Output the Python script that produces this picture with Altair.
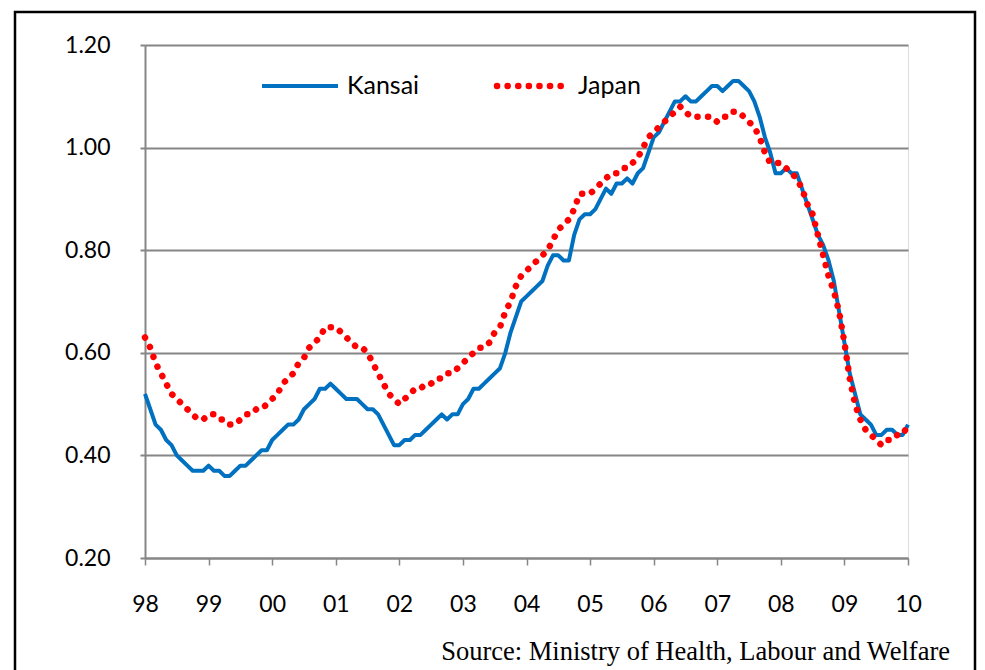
import altair as alt
import pandas as pd

# ---- data (monthly, Jan 1998 .. Jan 2010) ----
tick_labels = ["98", "99", "00", "01", "02", "03", "04", "05", "06", "07", "08", "09", "10"]
y_ticks = [0.20, 0.40, 0.60, 0.80, 1.00, 1.20]

kansai = [
    0.52, 0.49, 0.46, 0.45, 0.43, 0.42, 0.40, 0.39, 0.38, 0.37, 0.37, 0.37,
    0.38, 0.37, 0.37, 0.36, 0.36, 0.37, 0.38, 0.38, 0.39, 0.40, 0.41, 0.41,
    0.43, 0.44, 0.45, 0.46, 0.46, 0.47, 0.49, 0.50, 0.51, 0.53, 0.53, 0.54,
    0.53, 0.52, 0.51, 0.51, 0.51, 0.50, 0.49, 0.49, 0.48, 0.46, 0.44, 0.42,
    0.42, 0.43, 0.43, 0.44, 0.44, 0.45, 0.46, 0.47, 0.48, 0.47, 0.48, 0.48,
    0.50, 0.51, 0.53, 0.53, 0.54, 0.55, 0.56, 0.57, 0.60, 0.64, 0.67, 0.70,
    0.71, 0.72, 0.73, 0.74, 0.77, 0.79, 0.79, 0.78, 0.78, 0.83, 0.86, 0.87,
    0.87, 0.88, 0.90, 0.92, 0.91, 0.93, 0.93, 0.94, 0.93, 0.95, 0.96, 0.99,
    1.02, 1.03, 1.05, 1.07, 1.09, 1.09, 1.10, 1.09, 1.09, 1.10, 1.11, 1.12,
    1.12, 1.11, 1.12, 1.13, 1.13, 1.12, 1.11, 1.09, 1.06, 1.02, 0.99, 0.95,
    0.95, 0.96, 0.95, 0.95, 0.92, 0.89, 0.86, 0.83, 0.81, 0.78, 0.74, 0.68,
    0.62, 0.56, 0.52, 0.48, 0.47, 0.46, 0.44, 0.44, 0.45, 0.45, 0.44, 0.44,
    0.46,
]

japan = [
    0.63, 0.61, 0.58, 0.56, 0.54, 0.52, 0.51, 0.50, 0.49, 0.48, 0.47, 0.47,
    0.48, 0.48, 0.47, 0.47, 0.46, 0.46, 0.47, 0.48, 0.48, 0.49, 0.49, 0.50,
    0.51, 0.52, 0.54, 0.55, 0.56, 0.58, 0.59, 0.61, 0.62, 0.63, 0.65, 0.65,
    0.65, 0.64, 0.63, 0.62, 0.61, 0.61, 0.60, 0.58, 0.56, 0.54, 0.52, 0.51,
    0.50, 0.51, 0.52, 0.53, 0.53, 0.54, 0.54, 0.55, 0.55, 0.56, 0.56, 0.57,
    0.58, 0.59, 0.60, 0.61, 0.61, 0.62, 0.64, 0.65, 0.68, 0.70, 0.73, 0.75,
    0.76, 0.77, 0.78, 0.79, 0.80, 0.82, 0.84, 0.85, 0.86, 0.88, 0.91, 0.91,
    0.91, 0.92, 0.93, 0.94, 0.95, 0.95, 0.96, 0.96, 0.97, 0.98, 1.00, 1.02,
    1.03, 1.04, 1.05, 1.06, 1.07, 1.08, 1.07, 1.06, 1.06, 1.06, 1.06, 1.06,
    1.05, 1.06, 1.06, 1.07, 1.07, 1.06, 1.05, 1.04, 1.02, 0.99, 0.97, 0.97,
    0.97, 0.96, 0.95, 0.94, 0.92, 0.89, 0.87, 0.83, 0.79, 0.75, 0.72, 0.68,
    0.62, 0.55, 0.50, 0.47, 0.45, 0.44, 0.43, 0.42, 0.43, 0.43, 0.44, 0.44,
    0.46,
]

series_names = ["Kansai", "Japan"]
source_text = "Source: Ministry of Health, Labour and Welfare"

n = len(kansai)
months = list(range(n))
df_k = pd.DataFrame({"month": months, "ratio": kansai, "series": series_names[0]})
df_j = pd.DataFrame({"month": months, "ratio": japan, "series": series_names[1]})
one_row = pd.DataFrame({"k": [0]})

W, H = 763, 513
GRID = "#868686"
BLUE = "#0070C0"
RED = "#FF0000"
FONT = "Lato"

label_arr = "[" + ",".join("'" + t + "'" for t in tick_labels) + "]"

x_enc = alt.X(
    "month:Q",
    scale=alt.Scale(domain=[0, n - 1], nice=False, zero=False),
    axis=alt.Axis(
        values=list(range(0, n, 12)),
        labelExpr=label_arr + "[round(datum.value / 12)]",
        title=None, grid=False, labelFlush=False,
        domainColor=GRID, domainWidth=2,
        tickColor=GRID, tickWidth=1.5, tickSize=7,
        labelFont=FONT, labelFontSize=23, labelColor="black",
        labelPadding=28,
    ),
)
y_enc = alt.Y(
    "ratio:Q",
    scale=alt.Scale(domain=[0.2, 1.2], nice=False, zero=False),
    axis=alt.Axis(
        values=y_ticks, format=".2f", title=None, labelFlush=False,
        grid=True, gridColor=GRID, gridWidth=2,
        domainColor=GRID, domainWidth=2,
        tickColor=GRID, tickWidth=2, tickSize=5,
        labelFont=FONT, labelFontSize=23, labelColor="black",
        labelPadding=30,
    ),
)

kansai_line = alt.Chart(df_k).mark_line(
    color=BLUE, strokeWidth=4, strokeJoin="round"
).encode(x=x_enc, y=y_enc)

japan_line = alt.Chart(df_j).mark_line(
    color=RED, strokeWidth=6.5, strokeCap="round", strokeDash=[0.1, 10.5]
).encode(x="month:Q", y="ratio:Q")

# legend (inside plot)
leg_k_line = alt.Chart(one_row).mark_rule(color=BLUE, strokeWidth=4).encode(
    x=alt.value(117), x2=alt.value(193), y=alt.value(41)
)
leg_k_text = alt.Chart(one_row).mark_text(
    text=series_names[0], align="left", baseline="middle",
    font=FONT, fontSize=25, color="black"
).encode(x=alt.value(202), y=alt.value(41))
leg_j_line = alt.Chart(one_row).mark_rule(
    color=RED, strokeWidth=6.5, strokeCap="round", strokeDash=[0.1, 10.5]
).encode(x=alt.value(352), x2=alt.value(425), y=alt.value(41))
leg_j_text = alt.Chart(one_row).mark_text(
    text=series_names[1], align="left", baseline="middle",
    font=FONT, fontSize=25, color="black"
).encode(x=alt.value(433), y=alt.value(41))

source = alt.Chart(one_row).mark_text(
    text=source_text, align="right", baseline="alphabetic",
    font="Liberation Serif", fontSize=26.5, color="black"
).encode(x=alt.value(805), y=alt.value(615))

frame = alt.Chart(one_row).mark_rect(
    filled=False, stroke="black", strokeWidth=2.5, fill=None
).encode(x=alt.value(-130), x2=alt.value(830), y=alt.value(-33), y2=alt.value(700))

chart = alt.layer(
    kansai_line, japan_line, leg_k_line, leg_k_text, leg_j_line, leg_j_text, source, frame
).properties(
    width=W, height=H,
    autosize=alt.AutoSizeParams(type="none"),
    padding={"left": 137, "top": 37, "right": 69, "bottom": 112},
).configure_view(stroke=None).configure(background="white")

chart.save("out.html", embed_options={"renderer": "svg", "actions": False})
